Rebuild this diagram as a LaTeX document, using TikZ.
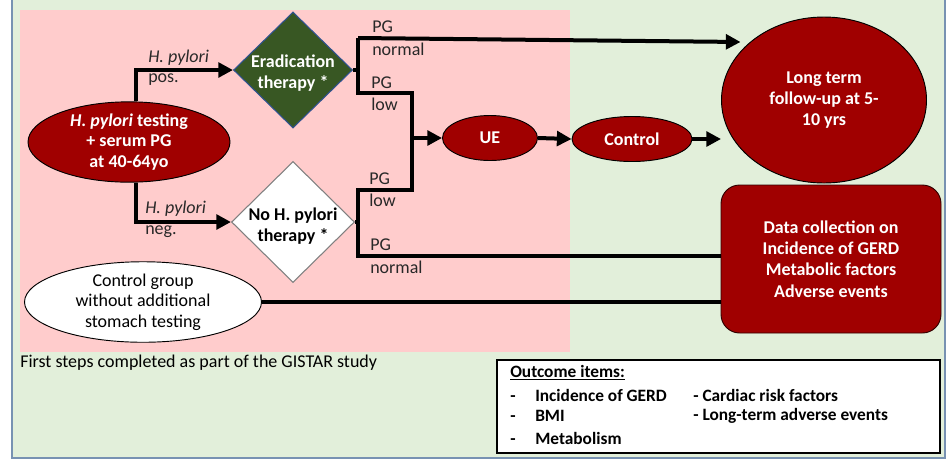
\documentclass[tikz,border=0pt]{standalone}
\usepackage{fontspec}
\setmainfont{Carlito}
\usetikzlibrary{shapes.geometric,arrows.meta,calc}
\definecolor{bggreen}{RGB}{226,239,218}
\definecolor{bgpink}{RGB}{255,204,204}
\definecolor{darkred}{RGB}{160,0,0}
\definecolor{darkgreen}{RGB}{56,87,35}
\definecolor{diamblue}{RGB}{47,82,143}
\definecolor{framegray}{RGB}{120,146,178}
\definecolor{labelgray}{RGB}{40,40,40}
\newdimen\pxu \pxu=0.75pt
\tikzset{
  basefont/.style={font=\fontsize{13.5}{15.5}\selectfont},
  redell/.style={ellipse, draw=black, line width=0.7pt, fill=darkred, text=white,
    font=\fontsize{13.5}{15.5}\selectfont\bfseries, align=center, inner sep=0pt},
  diam/.style={diamond, inner sep=0pt, line width=0.8pt},
  diamtext/.style={inner sep=0pt, align=center,
    font=\fontsize{13.5}{15.5}\selectfont\bfseries},
  flow/.style={line width=3pt},
  flowarrow/.style={flow, -{Triangle[length=11pt,width=11pt]}},
  lbl/.style={anchor=west, inner sep=0pt, text=labelgray,
    font=\fontsize{13.5}{15.5}\selectfont},
}
\begin{document}
\begin{tikzpicture}[x=0.75pt,y=-0.75pt]
\useasboundingbox (0,0) rectangle (948,462);
% backgrounds
\fill[bggreen] (12,0) rectangle (945,458);
\draw[framegray, line width=1.5pt] (12,0) -- (12,458) -- (945,458) -- (945,0);
\fill[bgpink] (20,10) rectangle (570,352);

% nodes
\node[redell, minimum width=202\pxu, minimum height=75\pxu] (test) at (129,142)
  {\textit{H. pylori} testing\\+ serum PG\\at 40-64yo};
\node[diam, fill=darkgreen, draw=diamblue,
  minimum width=119\pxu, minimum height=116\pxu] (erad) at (293,70) {};
\node[diamtext, text=white] (eradtext) at ($(erad.center)+(0,3)$) {Eradication\\therapy *};
\node[diam, fill=white, draw=gray,
  minimum width=123\pxu, minimum height=121\pxu] (noh) at (293,222) {};
\node[diamtext, text=black] (nohtext) at ($(noh.center)+(0,4)$) {No H. pylori\\therapy *};
\node[redell, minimum width=95\pxu, minimum height=45\pxu] (ue) at (490,138) {UE};
\node[redell, minimum width=120\pxu, minimum height=45\pxu] (ctrl) at (632,139) {Control};
\node[redell, minimum width=205\pxu, minimum height=166\pxu] (lt) at (824,100)
  {Long term\\follow-up at 5-\\10 yrs};
\node[draw=black!70!darkred, line width=0.7pt, fill=darkred, text=white,
  rounded corners=14pt, minimum width=220\pxu, minimum height=148\pxu,
  align=center, font=\fontsize{13.5}{16}\selectfont\bfseries] (data) at (831,259)
  {Data collection on\\Incidence of GERD\\Metabolic factors\\Adverse events};
\node[ellipse, draw=black, line width=0.7pt, fill=white, inner sep=0pt,
  minimum width=237\pxu, minimum height=69\pxu, align=center, basefont] (cg) at (143,302)
  {Control group\\without additional\\stomach testing};

% junction points of the branching lines
\coordinate (e1) at (358,38);
\coordinate (e2) at (358,93);
\coordinate (j1) at (412,93);
\coordinate (j2) at (412,190);
\coordinate (e3) at (358,190);
\coordinate (e4) at (358,256);

% connectors
\draw[flowarrow] ($(test.north)+(7,0)$) |- (erad.west);
\draw[flowarrow] ($(test.south)+(7,0)$) |- (noh.west);
\draw[flow] (erad.east) -- (erad.east -| e1);
\draw[flow] (noh.east) -- (noh.east -| e3);
\draw[flowarrow, shorten >=7pt] (e1) -- (lt.142);
\draw[flow] (e1) -- (e2) -- (j1) -- (j2) -- (e3) -- (e4) -- (e4 -| data.west);
\draw[flowarrow] (ue.west -| j1) -- (ue.west);
\draw[flowarrow] (ue.east) -- (ctrl.west);
\draw[flowarrow] (ctrl.east) -- (ctrl.east -| lt.west);
\draw[flow, line width=2.4pt] (cg.east) -- (cg.east -| data.west);

% branch labels
\node[lbl] (pos1) at (148,58) {\textit{H. pylori}};
\node[lbl] (pos2) at (148,80) {pos.};
\node[lbl] (neg1) at (145,209) {\textit{H. pylori}};
\node[lbl] (neg2) at (145,232) {neg.};
\node[lbl] (pgn1) at (372,27) {PG};
\node[lbl] (pgn2) at (372,49) {normal};
\node[lbl] (pgl1) at (371,83) {PG};
\node[lbl] (pgl2) at (371,104) {low};
\node[lbl] (pgl3) at (369,179) {PG};
\node[lbl] (pgl4) at (369,200) {low};
\node[lbl] (pgn3) at (370,245) {PG};
\node[lbl] (pgn4) at (370,267) {normal};

\node[lbl, text=black] (first) at (20,363) {First steps completed as part of the GISTAR study};

% outcome box
\node[draw=black, line width=1pt, fill=white, minimum width=443\pxu, minimum height=93\pxu,
  inner sep=0pt] (outbox) at (718.5,406.5) {};
\begin{scope}[every node/.style={anchor=west, inner sep=0pt,
  font=\fontsize{13}{15.5}\selectfont\bfseries}]
\node (oh) at (510,373) {\underline{Outcome items:}};
\node (o1) at (510,395) {\makebox[25\pxu][l]{-}Incidence of GERD};
\node (o2) at (510,416) {\makebox[25\pxu][l]{-}BMI};
\node (o3) at (510,438) {\makebox[25\pxu][l]{-}Metabolism};
\node (o4) at (693,395) {- Cardiac risk factors};
\node (o5) at (693,416) {- Long-term adverse events};
\end{scope}
\end{tikzpicture}
\end{document}
